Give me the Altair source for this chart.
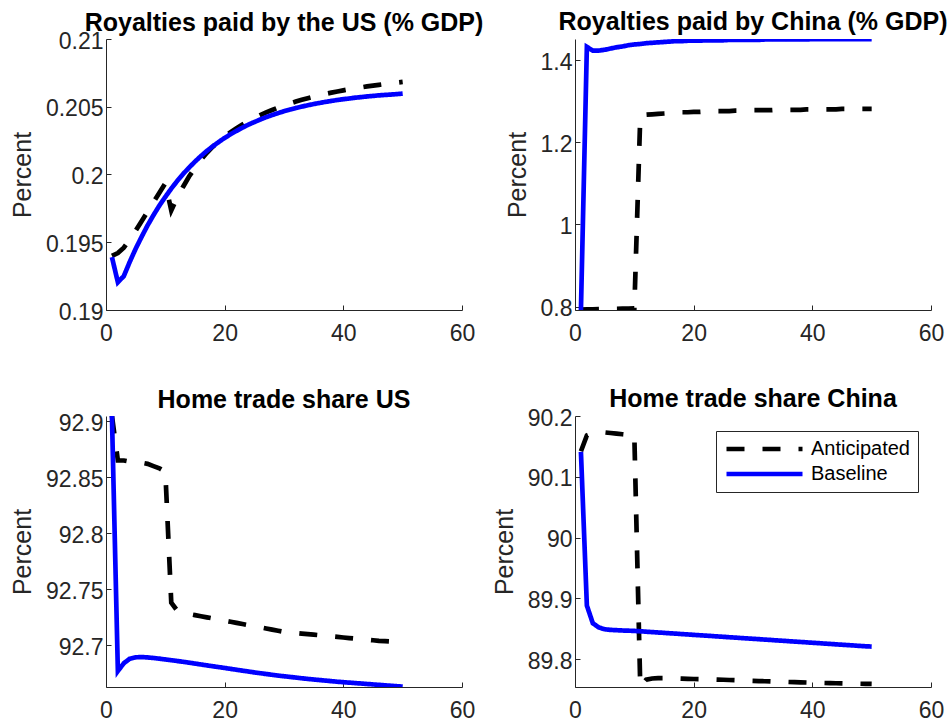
import altair as alt
import pandas as pd

# Quarters after the shock
periods = list(range(1, 51))

series_names = ["Anticipated", "Baseline"]
series_colors = ["#000000", "#0000FF"]
series_dashes = [[18, 18], [1, 0]]

# Royalties paid by the US (% GDP)
us_roy_anticipated = [
    0.19400, 0.19420, 0.19460, 0.19520, 0.19585, 0.19655, 0.19725, 0.19795, 0.19865, 0.19935,
    0.19735, 0.19830, 0.19910, 0.19985, 0.20050, 0.20108, 0.20160, 0.20205, 0.20245, 0.20281,
    0.20313, 0.20342, 0.20369, 0.20394, 0.20417, 0.20438, 0.20458, 0.20476, 0.20493, 0.20509,
    0.20524, 0.20538, 0.20551, 0.20563, 0.20574, 0.20585, 0.20595, 0.20604, 0.20613, 0.20621,
    0.20629, 0.20636, 0.20643, 0.20650, 0.20656, 0.20662, 0.20668, 0.20673, 0.20678, 0.20683,
]
us_roy_baseline = [
    0.19390, 0.19205, 0.19250, 0.19355, 0.19452, 0.19540, 0.19624, 0.19700, 0.19771, 0.19835,
    0.19896, 0.19952, 0.20004, 0.20051, 0.20095, 0.20136, 0.20174, 0.20208, 0.20240, 0.20270,
    0.20297, 0.20322, 0.20346, 0.20368, 0.20387, 0.20406, 0.20423, 0.20439, 0.20453, 0.20467,
    0.20479, 0.20491, 0.20501, 0.20511, 0.20520, 0.20528, 0.20536, 0.20543, 0.20550, 0.20556,
    0.20561, 0.20567, 0.20571, 0.20576, 0.20580, 0.20584, 0.20587, 0.20590, 0.20593, 0.20597,
]

# Royalties paid by China (% GDP)
cn_roy_anticipated = [
    0.7932, 0.7935, 0.7938, 0.7941, 0.7944, 0.7947, 0.7950, 0.7953, 0.7956, 0.7960,
    1.263, 1.267, 1.268, 1.269, 1.270, 1.271, 1.272, 1.273, 1.273, 1.274,
    1.274, 1.275, 1.275, 1.276, 1.276, 1.276, 1.277, 1.277, 1.277, 1.278,
    1.278, 1.278, 1.278, 1.279, 1.279, 1.279, 1.279, 1.279, 1.280, 1.280,
    1.280, 1.280, 1.280, 1.280, 1.281, 1.281, 1.281, 1.281, 1.281, 1.281,
]
cn_roy_baseline = [
    0.792, 1.432, 1.423, 1.423, 1.425, 1.428, 1.431, 1.433, 1.436, 1.438,
    1.439, 1.441, 1.442, 1.443, 1.444, 1.445, 1.446, 1.446, 1.447, 1.447,
    1.447, 1.448, 1.448, 1.448, 1.448, 1.449, 1.449, 1.449, 1.449, 1.449,
    1.449, 1.450, 1.450, 1.450, 1.450, 1.450, 1.450, 1.450, 1.450, 1.451,
    1.451, 1.451, 1.451, 1.451, 1.451, 1.451, 1.451, 1.451, 1.451, 1.451,
]

# Home trade share US
us_home_anticipated = [
    92.905, 92.865, 92.865, 92.864, 92.8635, 92.863, 92.862, 92.860, 92.858, 92.855,
    92.738, 92.731, 92.7295, 92.728, 92.727, 92.726, 92.725, 92.724, 92.723, 92.722,
    92.721, 92.720, 92.719, 92.718, 92.717, 92.716, 92.715, 92.714, 92.713, 92.712,
    92.7115, 92.711, 92.7105, 92.710, 92.7095, 92.709, 92.7085, 92.708, 92.7075, 92.707,
    92.7065, 92.706, 92.7055, 92.705, 92.7045, 92.704, 92.7037, 92.7034, 92.7031, 92.7028,
]
us_home_baseline = [
    92.905, 92.677, 92.684, 92.688, 92.6893, 92.6895, 92.6892, 92.6887, 92.6881, 92.6874,
    92.6867, 92.686, 92.6853, 92.6845, 92.6837, 92.6829, 92.6821, 92.6813, 92.6806, 92.6798,
    92.679, 92.6782, 92.6774, 92.6766, 92.6758, 92.6751, 92.6744, 92.6737, 92.673, 92.6724,
    92.6718, 92.6712, 92.6706, 92.670, 92.6695, 92.669, 92.6685, 92.668, 92.6675, 92.6671,
    92.6667, 92.6663, 92.6659, 92.6655, 92.6651, 92.6647, 92.6643, 92.6639, 92.6635, 92.6631,
]

# Home trade share China
cn_home_anticipated = [
    90.142, 90.168, 90.172, 90.173, 90.173, 90.172, 90.171, 90.170, 90.169, 90.168,
    89.7545, 89.766, 89.768, 89.7685, 89.7685, 89.768, 89.768, 89.7677, 89.7675, 89.7672,
    89.767, 89.7667, 89.7665, 89.7662, 89.7659, 89.7655, 89.7652, 89.7648, 89.7645, 89.7642,
    89.7638, 89.7635, 89.7631, 89.7628, 89.7625, 89.7622, 89.7619, 89.7616, 89.7614, 89.7611,
    89.7608, 89.7606, 89.7604, 89.7602, 89.760, 89.7598, 89.7596, 89.7594, 89.7592, 89.759,
]
cn_home_baseline = [
    90.141, 89.888, 89.859, 89.852, 89.849, 89.848, 89.8475, 89.847, 89.8467, 89.8463,
    89.8457, 89.845, 89.8444, 89.8437, 89.8431, 89.8424, 89.8418, 89.8411, 89.8405, 89.8398,
    89.8392, 89.8385, 89.8379, 89.8372, 89.8366, 89.8359, 89.8353, 89.8346, 89.834, 89.8333,
    89.8327, 89.832, 89.8314, 89.8307, 89.8301, 89.8294, 89.8288, 89.8281, 89.8275, 89.8268,
    89.8262, 89.8255, 89.8249, 89.8242, 89.8236, 89.8229, 89.8223, 89.8216, 89.821, 89.8205,
]

panel_titles = [
    "Royalties paid by the US (% GDP)",
    "Royalties paid by China (% GDP)",
    "Home trade share US",
    "Home trade share China",
]
y_domains = [
    [0.19, 0.21],
    [0.792, 1.4512],
    [92.6628, 92.9047],
    [89.754, 90.2],
]
y_ticks = [
    [0.19, 0.195, 0.2, 0.205, 0.21],
    [0.8, 1.0, 1.2, 1.4],
    [92.7, 92.75, 92.8, 92.85, 92.9],
    [89.8, 89.9, 90.0, 90.1, 90.2],
]
x_ticks = [0, 20, 40, 60]

# Titles sit above the axis extent, so panels whose top tick label pokes
# above the frame need a smaller offset to line all titles up.
title_offsets = [-6, 4, -1, -5]

FONT = "Liberation Sans"
AXIS_GREY = "#262626"
PANEL_W, PANEL_H = 356, 271


def panel(title, anticipated, baseline, y_domain, y_values, title_offset, with_legend=False):
    df = pd.DataFrame({
        "period": periods * 2,
        "value": anticipated + baseline,
        "series": [series_names[0]] * len(periods) + [series_names[1]] * len(periods),
    })
    if with_legend:
        legend = alt.Legend(
            title=None, orient="none", legendX=141, legendY=15,
            symbolType="stroke", symbolSize=5776, symbolStrokeWidth=4.7,
            clipHeight=20,
            labelFont=FONT, labelFontSize=20, labelColor="#000000",
            labelOffset=6, rowPadding=5, padding=8,
            strokeColor=AXIS_GREY, fillColor="#FFFFFF",
        )
    else:
        legend = None
    return (
        alt.Chart(
            df,
            title=alt.TitleParams(
                title, font=FONT, fontSize=25, fontWeight="bold", color="#000000",
                anchor="middle", frame="group", offset=title_offset,
            ),
        )
        .mark_line(strokeWidth=4.7, strokeCap="butt", clip=True)
        .encode(
            x=alt.X(
                "period:Q",
                scale=alt.Scale(domain=[0, 60], nice=False, zero=False),
                axis=alt.Axis(values=x_ticks, title=None, format="d",
                              labelPadding=17, labelFlush=False),
            ),
            y=alt.Y(
                "value:Q",
                scale=alt.Scale(domain=y_domain, nice=False, zero=False),
                axis=alt.Axis(values=y_values, format="~g", title="Percent",
                              labelPadding=8, titlePadding=10, labelFlush=False,
                              labelOffset=2),
            ),
            color=alt.Color(
                "series:N",
                scale=alt.Scale(domain=series_names, range=series_colors),
                legend=legend,
            ),
            strokeDash=alt.StrokeDash(
                "series:N",
                scale=alt.Scale(domain=series_names, range=series_dashes),
                legend=legend,
            ),
        )
        .properties(width=PANEL_W, height=PANEL_H)
    )


p1 = panel(panel_titles[0], us_roy_anticipated, us_roy_baseline,
           y_domains[0], y_ticks[0], title_offsets[0])
p2 = panel(panel_titles[1], cn_roy_anticipated, cn_roy_baseline,
           y_domains[1], y_ticks[1], title_offsets[1])
p3 = panel(panel_titles[2], us_home_anticipated, us_home_baseline,
           y_domains[2], y_ticks[2], title_offsets[2])
p4 = panel(panel_titles[3], cn_home_anticipated, cn_home_baseline,
           y_domains[3], y_ticks[3], title_offsets[3], with_legend=True)

chart = (
    alt.concat(p1, p2, p3, p4, columns=2, spacing={"row": 106, "column": 113}, bounds="flush")
    .resolve_scale(color="independent", strokeDash="independent")
    .properties(padding={"left": 10, "top": 10, "right": 0, "bottom": 0}, background="#FFFFFF")
    .configure_view(stroke=None)
    .configure_axis(
        labelFont=FONT, labelFontSize=23, labelColor=AXIS_GREY,
        titleFont=FONT, titleFontSize=25, titleFontWeight="normal", titleColor=AXIS_GREY,
        domainColor=AXIS_GREY, domainWidth=1,
        tickColor=AXIS_GREY, tickWidth=1, tickSize=alt.ExprRef(expr="-5"),
        grid=False,
    )
)

chart.save("out.html", embed_options={"renderer": "svg", "actions": False})
